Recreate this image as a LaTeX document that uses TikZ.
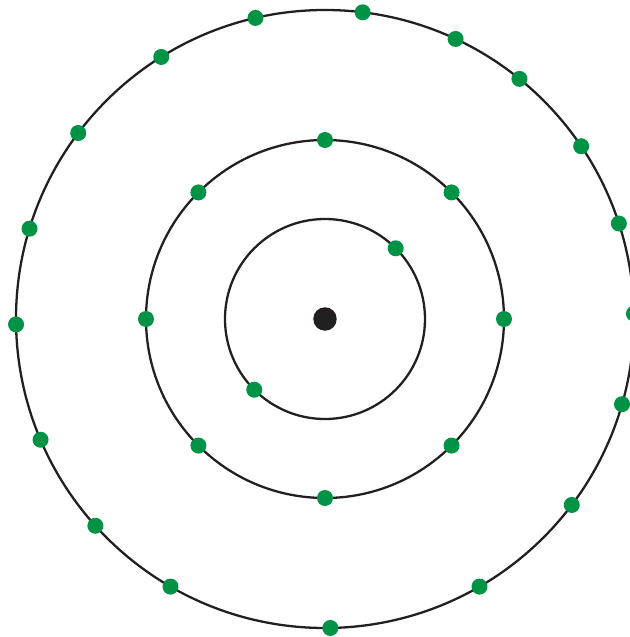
\documentclass[tikz,border=0pt]{standalone}
\usepackage{xcolor}
\usetikzlibrary{positioning}
\definecolor{shellgreen}{HTML}{009245}
\definecolor{coreblack}{HTML}{231F20}

\begin{document}
\begin{tikzpicture}[
  x=0.02cm, y=0.02cm,
  shell/.style={draw=coreblack,line width=1.3pt},
  nucleus/.style={circle,fill=coreblack,inner sep=0pt,minimum size=0.47cm},
  electron/.style={circle,fill=shellgreen,inner sep=0pt,minimum size=0.32cm}
]
\useasboundingbox (-325,-318) rectangle (305,319);
\node[nucleus] (core) at (0,0) {};
% shells
\draw[shell] (core.center) circle (100);
\draw[shell] (core.center) circle (179);
\draw[shell] (core.center) circle (309);
% first shell
\foreach \a [count=\i] in {45,225}
  \node[electron] (inner\i) at (\a:100) {};
% second shell
\foreach \a [count=\i] in {0,45,...,315}
  \node[electron] (middle\i) at (\a:179) {};
% third shell
\foreach \a [count=\i] in {1,18,34,51,65,83,103,122,143,163,181,203,222,240,271,300,323,344}
  \node[electron] (outer\i) at (\a:309) {};
\end{tikzpicture}
\end{document}
